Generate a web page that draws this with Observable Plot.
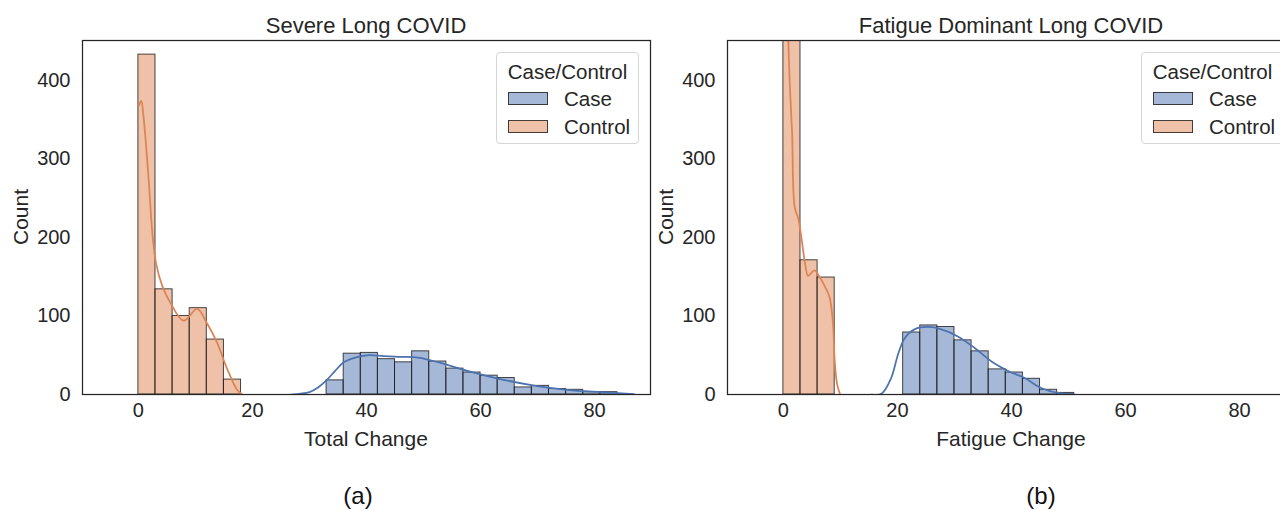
<!DOCTYPE html>
<html><head><meta charset="utf-8">
<script src="https://cdn.jsdelivr.net/npm/d3@7"></script>
<script src="https://cdn.jsdelivr.net/npm/@observablehq/plot@0.6"></script>
<style>
body{margin:0;background:#fff;overflow:hidden;}
#wrap{position:relative;width:1280px;height:511px;overflow:hidden;font-family:"Liberation Sans",Arial,sans-serif;color:#262626;}
.panel{position:absolute;top:0;}
.lbl{position:absolute;white-space:nowrap;transform:translate(-50%,-50%);line-height:1;}
.title{font-size:22px;}
.axl{font-size:21px;}
.rot{transform:translate(-50%,-50%) rotate(-90deg);}
.sub{font-size:24px;color:#111;}
.legend{position:absolute;box-sizing:border-box;border:1px solid #d6d6d6;border-radius:4px;background:rgba(255,255,255,0.8);font-size:20.5px;width:143px;height:92px;}
.legend .lt{position:absolute;left:0;right:0;top:8px;text-align:center;line-height:21px;white-space:nowrap;}
.legend .sw{position:absolute;left:11px;width:40px;height:13px;box-sizing:border-box;border:1px solid rgba(26,26,26,0.8);}
.legend .tx{position:absolute;left:67px;line-height:21px;white-space:nowrap;}
</style></head>
<body><div id="wrap"></div>
<script>
// ---------- data ----------
const ticksX = [0, 20, 40, 60, 80];
const ticksY = [0, 100, 200, 300, 400];
const groups = ["Case", "Control"];

// Severe Long COVID (Total Change)
const severeControlEdges = [0, 3, 6, 9, 12, 15, 18];
const severeControlCounts = [433, 134, 100, 110, 70, 19];
const severeCaseEdges = [33, 36, 39, 42, 45, 48, 51, 54, 57, 60, 63, 66, 69, 72, 75, 78, 81, 84];
const severeCaseCounts = [18, 52, 53, 45, 41, 55, 42, 33, 28, 24, 21, 9, 11, 7, 6, 3, 3];
const severeControlKdeX = [0.1, 0.5, 0.9, 1.8, 2.4, 3.1, 4.2, 5.6, 7.95, 10.3, 12.0, 13.8, 15.6, 17.3, 18.2];
const severeControlKdeY = [368, 374, 354, 274, 210, 167, 138, 117, 94, 109, 91, 66, 32, 6, 0];
const severeCaseKdeX = [26.7, 30, 31.5, 33.1, 34.5, 36, 38, 40.1, 43, 45.6, 49.1, 51.5, 53.6, 57.7, 63.2, 69.4, 75.2, 81, 86.9];
const severeCaseKdeY = [0, 3, 9, 19, 30, 41, 47, 50, 49, 48, 47, 43, 39, 30, 20, 11.4, 6, 3, 0.5];

// Fatigue Dominant Long COVID (Fatigue Change)
const fatigueControlEdges = [0, 3, 6, 9];
const fatigueControlCounts = [640, 171, 149];
const fatigueCaseEdges = [21, 24, 27, 30, 33, 36, 39, 42, 45, 48, 51];
const fatigueCaseCounts = [79, 88, 86, 69, 55, 32, 28, 20, 6, 2];
const fatigueControlKdeX = [0.1, 0.5, 0.82, 1.1, 1.52, 1.99, 2.58, 3.16, 3.74, 4.33, 4.91, 5.5, 6.4, 7.25, 8.1, 8.7, 9.0, 9.4, 9.9];
const fatigueControlKdeY = [600, 520, 462, 399, 335, 238, 225, 200, 170, 151, 155, 158, 149, 138, 124, 90, 43, 14, 1];
const fatigueCaseKdeX = [15.5, 17.2, 18.9, 20.1, 21.3, 23, 25.4, 27.7, 30.6, 33.6, 36.5, 39.4, 42.3, 45.3, 48.2, 51.1];
const fatigueCaseKdeY = [0, 1, 21, 51, 72, 83, 86, 83, 74, 59, 42, 30, 21, 8, 2, 0];

const colors = {Case: "#4c72b0", Control: "#dd8452"};

// ---------- helpers ----------
const bins = (edges, counts) => counts.map((c, i) => ({x1: edges[i], x2: edges[i + 1], y: c}));
const pts = (xs, ys) => xs.map((x, i) => ({x, y: ys[i]}));

function panel(p) {
  return Plot.plot({
    width: 660, height: 460,
    marginLeft: 82, marginRight: 10, marginTop: 40, marginBottom: 66,
    x: {domain: [-9.8, 89.8]},
    y: {domain: [0, 451]},
    style: {fontSize: "20px", fontFamily: "'Liberation Sans', Arial, sans-serif", color: "#262626", background: "transparent", overflow: "visible"},
    marks: [
      Plot.rectY(bins(p.caseEdges, p.caseCounts), {x1: "x1", x2: "x2", y1: 0, y2: "y", fill: colors.Case, fillOpacity: 0.5, stroke: "#1a1a1a", strokeOpacity: 0.8, strokeWidth: 1, clip: true}),
      Plot.rectY(bins(p.ctrlEdges, p.ctrlCounts), {x1: "x1", x2: "x2", y1: 0, y2: "y", fill: colors.Control, fillOpacity: 0.5, stroke: "#1a1a1a", strokeOpacity: 0.8, strokeWidth: 1, clip: true}),
      Plot.line(pts(p.caseKdeX, p.caseKdeY), {x: "x", y: "y", stroke: colors.Case, strokeWidth: 1.75, curve: "catmull-rom", clip: true}),
      Plot.line(pts(p.ctrlKdeX, p.ctrlKdeY), {x: "x", y: "y", stroke: colors.Control, strokeWidth: 1.75, curve: "catmull-rom", clip: true}),
      Plot.axisX({ticks: ticksX, tickSize: 0, tickPadding: 8, label: null}),
      Plot.axisY({ticks: ticksY, tickSize: 0, tickPadding: 12, label: null}),
      Plot.frame({stroke: "#262626", strokeWidth: 1.25})
    ]
  });
}

const wrap = document.getElementById("wrap");
function add(html) { const d = document.createElement("div"); d.innerHTML = html; const n = d.firstElementChild; wrap.appendChild(n); return n; }

const panels = [
  {left: 0, title: "Severe Long COVID", xlabel: "Total Change", sub: "(a)", subX: 358,
   caseEdges: severeCaseEdges, caseCounts: severeCaseCounts, ctrlEdges: severeControlEdges, ctrlCounts: severeControlCounts,
   caseKdeX: severeCaseKdeX, caseKdeY: severeCaseKdeY, ctrlKdeX: severeControlKdeX, ctrlKdeY: severeControlKdeY, legendX: 496},
  {left: 645, title: "Fatigue Dominant Long COVID", xlabel: "Fatigue Change", sub: "(b)", subX: 1041,
   caseEdges: fatigueCaseEdges, caseCounts: fatigueCaseCounts, ctrlEdges: fatigueControlEdges, ctrlCounts: fatigueControlCounts,
   caseKdeX: fatigueCaseKdeX, caseKdeY: fatigueCaseKdeY, ctrlKdeX: fatigueControlKdeX, ctrlKdeY: fatigueControlKdeY, legendX: 1141}
];

for (const p of panels) {
  const svg = panel(p);
  svg.classList.add("panel");
  svg.style.left = p.left + "px";
  wrap.appendChild(svg);
  const cx = p.left + 82 + 284;
  add(`<div class="lbl title" style="left:${cx}px;top:26px">${p.title}</div>`);
  add(`<div class="lbl axl" style="left:${cx}px;top:438px">${p.xlabel}</div>`);
  add(`<div class="lbl axl rot" style="left:${p.left + 20}px;top:217px">Count</div>`);
  add(`<div class="lbl sub" style="left:${p.subX}px;top:496px">${p.sub}</div>`);
  const lg = add(`<div class="legend" style="left:${p.legendX}px;top:52px"></div>`);
  lg.innerHTML = `<div class="lt">Case/Control</div>` + groups.map((g, i) =>
    `<div class="sw" style="top:${39 + i * 28}px;background:${colors[g]}80"></div><div class="tx" style="top:${35 + i * 28}px">${g}</div>`).join("");
}
</script></body></html>
